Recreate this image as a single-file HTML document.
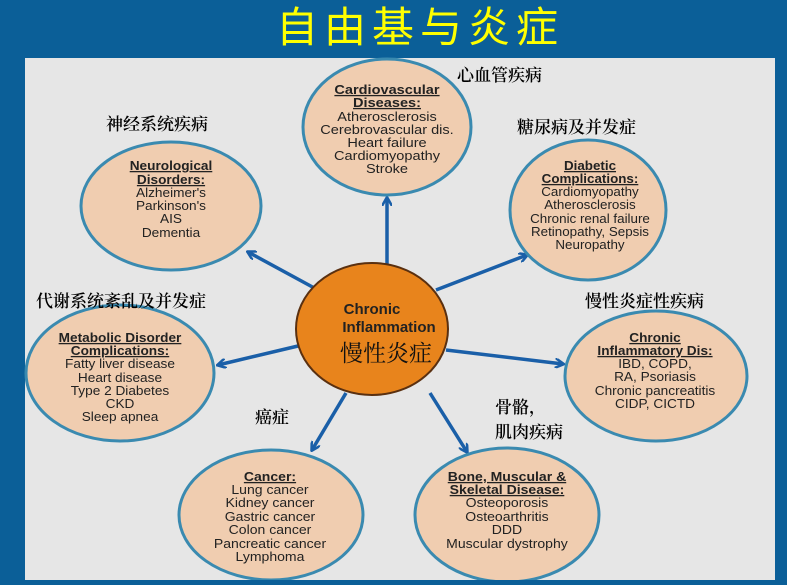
<!DOCTYPE html>
<html><head><meta charset="utf-8"><style>
body{margin:0;width:787px;height:580px;overflow:hidden;background:#0b5f98;font-family:"Liberation Sans","Noto Sans CJK SC",sans-serif}
</style></head><body>
<svg width="787" height="580" xmlns="http://www.w3.org/2000/svg">
<defs><marker id="a" markerWidth="10" markerHeight="10" refX="8" refY="5" orient="auto" markerUnits="userSpaceOnUse"><path d="M0,0 L9,5 L0,10" fill="none" stroke="#1a5fa8" stroke-width="2.5"/></marker></defs>
<rect x="0" y="0" width="787" height="580" fill="#0b5f98"/>
<text x="420" y="42" text-anchor="middle" font-size="42" fill="#ffff00" font-family="Noto Sans CJK SC,sans-serif" letter-spacing="6">自由基与炎症</text>
<rect x="25" y="58" width="750" height="522" fill="#e6e6e6"/>
<g stroke="#1a5fa8" stroke-width="3.5" marker-end="url(#a)">
<line x1="387" y1="264" x2="387" y2="198"/>
<line x1="318" y1="290" x2="248" y2="252"/>
<line x1="436" y1="290" x2="527" y2="255"/>
<line x1="298" y1="346" x2="218" y2="365"/>
<line x1="446" y1="350" x2="563" y2="364"/>
<line x1="346" y1="393" x2="312" y2="450"/>
<line x1="430" y1="393" x2="467" y2="452"/>
</g>
<g fill="#f0cdb0" stroke="#3a8ab0" stroke-width="3">
<ellipse cx="387" cy="127" rx="84" ry="68"/>
<ellipse cx="171" cy="206" rx="90" ry="64"/>
<ellipse cx="588" cy="210" rx="78" ry="70"/>
<ellipse cx="120" cy="373" rx="94" ry="68"/>
<ellipse cx="656" cy="376" rx="91" ry="65"/>
<ellipse cx="271" cy="515" rx="92" ry="65"/>
<ellipse cx="507" cy="515" rx="92" ry="67"/>
</g>
<ellipse cx="372" cy="329" rx="76" ry="66" fill="#e8841c" stroke="#5a3010" stroke-width="2"/>
<g font-family="Liberation Sans,sans-serif" font-weight="bold" fill="#222" text-anchor="middle">
<text x="372" y="314" font-size="15">Chronic</text>
<text x="389" y="332" font-size="15">Inflammation</text>
</g>
<text x="386" y="361" text-anchor="middle" font-size="23" fill="#111" font-family="Noto Serif CJK SC,serif">慢性炎症</text>
<g font-size="17" fill="#000" font-weight="600" font-family="Noto Serif CJK SC,serif">
<text x="457" y="81">心血管疾病</text>
<text x="106" y="130">神经系统疾病</text>
<text x="517" y="133">糖尿病及并发症</text>
<text x="36" y="307">代谢系统紊乱及并发症</text>
<text x="585" y="307">慢性炎症性疾病</text>
<text x="255" y="423">癌症</text>
<text x="495" y="413">骨骼，</text>
<text x="495" y="438">肌肉疾病</text>
</g>
<g font-size="13" fill="#222" text-anchor="middle" font-family="Liberation Sans,sans-serif">
<g transform="translate(387,0) scale(1.12,1) translate(-387,0)">
<text x="387" y="94" font-weight="bold" text-decoration="underline">Cardiovascular</text><text x="387" y="107" font-weight="bold" text-decoration="underline">Diseases:</text>
<text x="387" y="121">Atherosclerosis</text><text x="387" y="134">Cerebrovascular dis.</text><text x="387" y="147">Heart failure</text><text x="387" y="160">Cardiomyopathy</text><text x="387" y="173">Stroke</text>
</g>
<g transform="translate(171,0) scale(1.05,1) translate(-171,0)">
<text x="171" y="170" font-weight="bold" text-decoration="underline">Neurological</text><text x="171" y="184" font-weight="bold" text-decoration="underline">Disorders:</text>
<text x="171" y="197">Alzheimer's</text><text x="171" y="210">Parkinson's</text><text x="171" y="223">AIS</text><text x="171" y="237">Dementia</text>
</g>
<g transform="translate(590,0) scale(1.03,1) translate(-590,0)">
<text x="590" y="170" font-weight="bold" text-decoration="underline">Diabetic</text><text x="590" y="183" font-weight="bold" text-decoration="underline">Complications:</text>
<text x="590" y="196">Cardiomyopathy</text><text x="590" y="209">Atherosclerosis</text><text x="590" y="223">Chronic renal failure</text><text x="590" y="236">Retinopathy, Sepsis</text><text x="590" y="249">Neuropathy</text>
</g>
<g transform="translate(120,0) scale(1.05,1) translate(-120,0)">
<text x="120" y="342" font-weight="bold" text-decoration="underline">Metabolic Disorder</text><text x="120" y="355" font-weight="bold" text-decoration="underline">Complications:</text>
<text x="120" y="368">Fatty liver disease</text><text x="120" y="382">Heart disease</text><text x="120" y="395">Type 2 Diabetes</text><text x="120" y="408">CKD</text><text x="120" y="421">Sleep apnea</text>
</g>
<g transform="translate(655,0) scale(1.05,1) translate(-655,0)">
<text x="655" y="342" font-weight="bold" text-decoration="underline">Chronic</text><text x="655" y="355" font-weight="bold" text-decoration="underline">Inflammatory Dis:</text>
<text x="655" y="368">IBD, COPD,</text><text x="655" y="381">RA, Psoriasis</text><text x="655" y="395">Chronic pancreatitis</text><text x="655" y="408">CIDP, CICTD</text>
</g>
<g transform="translate(270,0) scale(1.08,1) translate(-270,0)">
<text x="270" y="481" font-weight="bold" text-decoration="underline">Cancer:</text>
<text x="270" y="494">Lung cancer</text><text x="270" y="507">Kidney cancer</text><text x="270" y="521">Gastric cancer</text><text x="270" y="534">Colon cancer</text><text x="270" y="548">Pancreatic cancer</text><text x="270" y="561">Lymphoma</text>
</g>
<g transform="translate(507,0) scale(1.08,1) translate(-507,0)">
<text x="507" y="481" font-weight="bold" text-decoration="underline">Bone, Muscular &amp;</text><text x="507" y="494" font-weight="bold" text-decoration="underline">Skeletal Disease:</text>
<text x="507" y="507">Osteoporosis</text><text x="507" y="521">Osteoarthritis</text><text x="507" y="534">DDD</text><text x="507" y="548">Muscular dystrophy</text>
</g>
</g>
</svg>
</body></html>
